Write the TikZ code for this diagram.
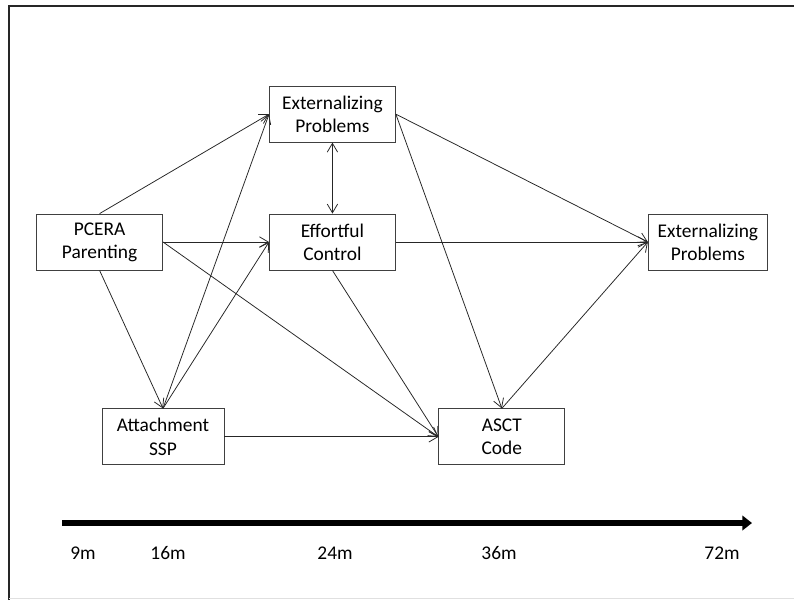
\documentclass[tikz,border=0pt]{standalone}
\usepackage{fontspec}
\setmainfont{Carlito}
\usetikzlibrary{arrows.meta, positioning}

\begin{document}
\begin{tikzpicture}[>={Straight Barb[length=2.2mm,width=2.6mm]},
    box/.style={draw=black!75, line width=0.6pt, minimum width=3.15cm, minimum height=1.4cm,
      align=center, font=\fontsize{13.8}{16.5}\selectfont},
    path/.style={->, line width=0.55pt, black!85},
    timeline/.style={line width=0.15cm, -{Triangle[length=0.24cm,width=0.36cm]}},
    age/.style={font=\fontsize{13.8}{16.5}\selectfont}]
    \useasboundingbox (0,0) rectangle (19.85,-15);
    % frame
    \draw[line width=1.3pt, black!85] (0.225,-15) -- (0.225,-0.15) -- (19.85,-0.15);
    \draw[black!12] (0.225,-14.95) -- (19.85,-14.95);

    % boxes
    \node[box] (pcera) at (2.49,-6.05) {PCERA\\Parenting};
    \node[box, right=2.65cm of pcera] (effort) {Effortful\\Control};
    \node[box, above=1.775cm of effort] (ext1) {Externalizing\\Problems};
    \node[box, minimum width=2.98cm, right=6.3cm of effort] (ext2) {Externalizing\\Problems};
    \node[box, minimum width=3.05cm, below=3.45cm of pcera, xshift=1.585cm] (attach) {Attachment\\SSP};
    \node[box, right=5.35cm of attach] (asct) {ASCT\\Code};

    % paths
    \draw[path] (pcera.north) -- (ext1.west);
    \draw[path] (pcera.east) -- (effort.west);
    \draw[path] (pcera.south) -- (attach.north);
    \draw[path] (pcera.east) -- (asct.west);
    \draw[path] (attach.north) -- (ext1.west);
    \draw[path] (attach.north) -- (effort.west);
    \draw[path] (attach.east) -- (asct.west);
    \draw[path, <->] (ext1.south) -- (effort.north);
    \draw[path] (ext1.east) -- (ext2.west);
    \draw[path] (ext1.east) -- (asct.north);
    \draw[path] (effort.east) -- (ext2.west);
    \draw[path] (effort.south) -- (asct.west);
    \draw[path] (asct.north) -- (ext2.west);

    % time axis
    \coordinate (tstart) at (1.55,-13.075);
    \coordinate (tend) at (18.8,-13.075);
    \draw[timeline] (tstart) -- (tend);
    \foreach \x/\m in {2.075/9m, 4.2/16m, 8.375/24m, 12.475/36m, 18.05/72m}
        \node[age] (age-\m) at (\x,-13.825) {\m};
\end{tikzpicture}
\end{document}
